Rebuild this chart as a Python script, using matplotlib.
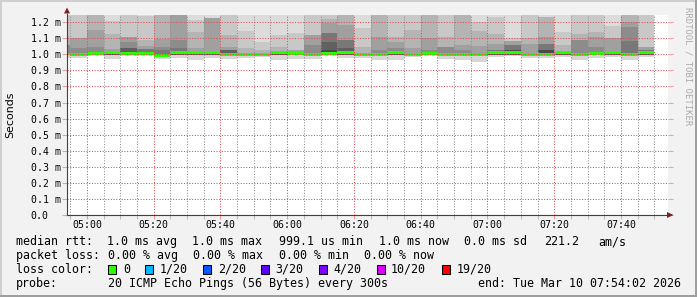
import matplotlib
matplotlib.use("Agg")
import matplotlib.pyplot as plt
from matplotlib.patches import Rectangle, Polygon
import numpy as np

W, H, DPI = 697, 297, 100

# ---------------- data ----------------
bar_start = ["04:50", "04:55", "05:00", "05:05", "05:10", "05:15", "05:20", "05:25",
             "05:30", "05:35", "05:40", "05:45", "05:50", "05:55", "06:00", "06:05",
             "06:10", "06:15", "06:20", "06:25", "06:30", "06:35", "06:40", "06:45",
             "06:50", "06:55", "07:00", "07:05", "07:10", "07:15", "07:20", "07:25",
             "07:30", "07:35", "07:40", "07:45"]

# median rtt (ms) per 5-minute step
median_ms = [1.002, 1.000, 1.003, 1.009, 1.003, 1.003, 0.995, 1.009, 1.009, 1.009,
             1.001, 1.000, 0.998, 1.009, 1.008, 1.000, 1.003, 1.009, 1.000, 1.000,
             1.009, 1.000, 1.003, 1.001, 1.000, 1.000, 1.009, 1.009, 1.000, 1.000,
             1.009, 0.999, 1.005, 1.009, 0.999, 1.009]

# lowest ping (ms) per step (light smoke below the median)
smoke_lo_ms = [0.979, 0.979, 0.992, 0.971, 0.992, 0.992, 0.971, 0.979, 0.965, 0.975,
               0.971, 0.975, 0.985, 0.965, 0.971, 0.971, 0.992, 0.975, 0.975, 0.965,
               0.965, 0.985, 0.992, 0.971, 0.965, 0.954, 0.985, 0.992, 0.975, 0.975,
               0.985, 0.965, 0.975, 0.985, 0.965, 0.985]

# inner (dark) smoke lower edge (ms)
inner_lo_ms = [1.000, 1.000, 1.000, 0.994, 1.000, 1.000, 1.000, 0.994, 0.994, 0.994,
               1.000, 1.000, 1.000, 0.994, 0.994, 1.000, 1.000, 0.994, 1.000, 1.000,
               0.994, 1.000, 1.000, 1.000, 1.000, 1.000, 0.994, 0.994, 1.000, 1.000,
               0.994, 1.000, 1.000, 0.994, 1.000, 0.994]

# smoke upper edges (ms), outer (lightest) to inner (darkest) ping bands
top_1 = [1.30] * 36
top_2 = [1.300, 1.300, 1.300, 1.208, 1.300, 1.240, 1.300, 1.300, 1.215, 1.229,
         1.300, 1.146, 1.079, 1.121, 1.131, 1.300, 1.300, 1.300, 1.167, 1.300,
         1.300, 1.300, 1.300, 1.300, 1.300, 1.200, 1.233, 1.100, 1.300, 1.233,
         1.142, 1.300, 1.300, 1.179, 1.300, 1.300]
top_3 = [1.110, 1.100, 1.300, 1.125, 1.110, 1.090, 1.300, 1.300, 1.142, 1.229,
         1.121, 1.038, 1.027, 1.048, 1.027, 1.121, 1.221, 1.300, 1.048, 1.300,
         1.110, 1.152, 1.300, 1.110, 1.300, 1.146, 1.125, 1.083, 1.100, 1.233,
         1.058, 1.125, 1.142, 1.100, 1.300, 1.048]
top_4 = [1.058, 1.100, 1.152, 1.033, 1.110, 1.054, 1.096, 1.300, 1.042, 1.229,
         1.048, 1.000, 1.000, 1.000, 1.027, 1.121, 1.194, 1.183, 1.000, 1.110,
         1.079, 1.038, 1.104, 1.048, 1.058, 1.054, 1.063, 1.083, 1.063, 1.110,
         1.000, 1.090, 1.110, 1.100, 1.200, 1.048]
top_5 = [1.058, 1.038, 1.048, 1.000, 1.075, 1.033, 1.048, 1.090, 1.000, 1.000,
         1.027, 1.000, 1.000, 1.000, 1.000, 1.058, 1.131, 1.090, 1.000, 1.027,
         1.042, 1.000, 1.027, 1.048, 1.027, 1.000, 1.027, 1.058, 1.000, 1.063,
         1.000, 1.090, 1.048, 1.000, 1.173, 1.027]
top_6 = [1.000, 1.000, 1.000, 1.000, 1.038, 1.033, 1.027, 1.038, 1.000, 1.000,
         1.027, 1.000, 1.000, 1.000, 1.000, 1.000, 1.131, 1.090, 1.000, 1.000,
         1.000, 1.000, 1.000, 1.000, 1.000, 1.000, 1.027, 1.058, 1.000, 1.063,
         1.000, 1.000, 1.000, 1.000, 1.083, 1.027]
top_7 = [1.000, 1.000, 1.000, 1.000, 1.038, 1.000, 1.000, 1.000, 1.000, 1.000,
         1.027, 1.000, 1.000, 1.000, 1.000, 1.000, 1.075, 1.038, 1.000, 1.000,
         1.000, 1.000, 1.000, 1.000, 1.000, 1.000, 1.000, 1.027, 1.000, 1.027,
         1.000, 1.000, 1.000, 1.000, 1.000, 1.000]
top_8 = [1.000, 1.000, 1.000, 1.000, 1.000, 1.000, 1.000, 1.000, 1.000, 1.000,
         1.000, 1.000, 1.000, 1.000, 1.000, 1.000, 1.027, 1.000, 1.000, 1.000,
         1.000, 1.000, 1.000, 1.000, 1.000, 1.000, 1.000, 1.027, 1.000, 1.027,
         1.000, 1.000, 1.000, 1.000, 1.000, 1.000]

step_min = 5
x_start, x_end = "04:54:02", "07:54:02"
xtick_labels = ["05:00", "05:20", "05:40", "06:00", "06:20", "06:40", "07:00", "07:20", "07:40"]
ytick_values = [0.0, 0.1, 0.2, 0.3, 0.4, 0.5, 0.6, 0.7, 0.8, 0.9, 1.0, 1.1, 1.2]
ytick_labels = ["0.0", "0.1 m", "0.2 m", "0.3 m", "0.4 m", "0.5 m", "0.6 m", "0.7 m",
                "0.8 m", "0.9 m", "1.0 m", "1.1 m", "1.2 m"]

loss_labels = ["0", "1/20", "2/20", "3/20", "4/20", "10/20", "19/20"]
loss_colors = ["#26ff00", "#00b8ff", "#0059ff", "#5e00ff", "#7e00ff", "#dd00ff", "#ff0000"]

row_median = ["median rtt:", "1.0 ms avg", "1.0 ms max", "999.1 us min", "1.0 ms now",
              "0.0 ms sd", "221.2", "am/s"]
row_loss = ["packet loss:", "0.00 % avg", "0.00 % max", "0.00 % min", "0.00 % now"]
probe_label = "probe:"
probe_text = "20 ICMP Echo Pings (56 Bytes) every 300s"
end_text = "end: Tue Mar 10 07:54:02 2026"

# ---------------- helpers ----------------
def to_min(s):
    p = [int(v) for v in s.split(":")]
    return p[0] * 60 + p[1] + (p[2] / 60 if len(p) > 2 else 0)

x = np.array([to_min(s) for s in bar_start])
med = np.array(median_ms)

BG = "#f2f2f2"
plt.rcParams["font.family"] = ["DejaVu Sans Mono"]
fig = plt.figure(figsize=(W / DPI, H / DPI), dpi=DPI, facecolor=BG)

def fx(px):
    return px / W

def fy(py):
    return 1 - py / H

ax = fig.add_axes([fx(67), fy(215), (667.8 - 67) / W, (215 - 14.5) / H])
ax.set_facecolor("white")
ax.set_xlim(to_min(x_start), to_min(x_end))
ax.set_ylim(0, 1.248)

# smoke
ax.bar(x, med - np.array(smoke_lo_ms), bottom=smoke_lo_ms, width=step_min, align="edge",
       color="#d6d6d6", linewidth=0, zorder=1.0)
shades = ["#dcdcdc", "#c8c8c8", "#b4b4b4", "#a0a0a0", "#8c8c8c", "#787878", "#606060", "#4a4a4a"]
tops = [top_1, top_2, top_3, top_4, top_5, top_6, top_7, top_8]
for i, (t, c) in enumerate(zip(tops, shades)):
    h = np.clip(np.array(t) - med, 0, None)
    ax.bar(x, h, bottom=med, width=step_min, align="edge", color=c, linewidth=0,
           zorder=1.1 + i * 0.01)
inner_h = np.clip(med - np.array(inner_lo_ms), 0, None)
ax.bar(x, inner_h, bottom=inner_lo_ms, width=step_min, align="edge", color="#4a4a4a",
       linewidth=0, zorder=1.3)
# median line (loss colour 0)
half = 0.0092
ax.bar(x, 2 * half, bottom=med - half, width=step_min, align="edge",
       color=loss_colors[0], linewidth=0, zorder=1.5)

# grid / ticks
GRID = (0.56, 0.56, 0.56, 0.55)
MGRID = (0.87, 0.31, 0.31, 0.5)
ax.set_axisbelow(False)
ax.set_yticks(ytick_values)
ax.set_yticklabels(ytick_labels, ha="left")
major_x = [to_min(s) for s in xtick_labels]
ax.set_xticks(major_x)
ax.set_xticklabels(xtick_labels)
ax.set_xticks(np.arange(to_min("04:55"), to_min("07:55"), step_min), minor=True)
ax.grid(True, which="major", axis="both", color=MGRID, linestyle=(0, (1, 1.6)), linewidth=0.75)
ax.grid(True, which="minor", axis="x", color=GRID, linestyle=(0, (1, 1.6)), linewidth=0.75)
ax.tick_params(axis="y", which="major", direction="out", length=3.6, width=0.75, color=MGRID,
               labelsize=7.1, pad=22.5, right=True)
ax.tick_params(axis="x", which="major", direction="out", length=3, width=0.75, color=MGRID,
               labelsize=7.1, pad=0.8)
ax.tick_params(axis="x", which="minor", direction="out", length=3, width=0.75, color=GRID)
for s in ["top", "right"]:
    ax.spines[s].set_visible(False)
for s in ["left", "bottom"]:
    ax.spines[s].set_color("#404040")
    ax.spines[s].set_linewidth(0.8)
    ax.spines[s].set_zorder(3)

# axis arrows
ARROW = "#801f1f"
fig.add_artist(Polygon([[fx(64), fy(13.5)], [fx(70), fy(13.5)], [fx(67), fy(7.5)]],
                       closed=True, transform=fig.transFigure, color=ARROW, lw=0))
fig.add_artist(Polygon([[fx(667), fy(212)], [fx(667), fy(218)], [fx(673.5), fy(215)]],
                       closed=True, transform=fig.transFigure, color=ARROW, lw=0))

# y label and watermark
fig.text(fx(10), fy(115), "Seconds", rotation=90, ha="center", va="center",
         fontsize=7.9, family="DejaVu Sans")
fig.text(fx(688), fy(66), "RRDTOOL / TOBI OETIKER", rotation=270, ha="center", va="center",
         fontsize=6.4, color="#ababab")

# legend rows
FS = 8.4
x_med = [15.6, 106.7, 192.4, 279, 378.7, 464.4, 544.4, 597.8]
for s, px in zip(row_median, x_med):
    fig.text(fx(px), fy(241.7), s, fontsize=FS, va="center", ha="left")
x_loss = [15.6, 107.6, 193.3, 279, 364.4]
for s, px in zip(row_loss, x_loss):
    fig.text(fx(px), fy(255.5), s, fontsize=FS, va="center", ha="left")
fig.text(fx(15.6), fy(269.5), "loss color:", fontsize=FS, va="center", ha="left")
box_x = [108, 145, 203, 261, 318.7, 377, 442]
lab_x = [123.6, 160, 218, 275.6, 333, 391, 457]
for c, lab, bx, lx in zip(loss_colors, loss_labels, box_x, lab_x):
    fig.add_artist(Rectangle((fx(bx), fy(273.8)), 8 / W, 8.5 / H, transform=fig.transFigure,
                             facecolor=c, edgecolor="black", linewidth=0.75))
    fig.text(fx(lx), fy(269.5), lab, fontsize=FS, va="center", ha="left")
fig.text(fx(15.6), fy(283.5), probe_label, fontsize=FS, va="center", ha="left")
fig.text(fx(107.6), fy(283.5), probe_text, fontsize=FS, va="center", ha="left")
fig.text(fx(680.5), fy(283.5), end_text, fontsize=FS, va="center", ha="right")

# 3-D frame around the image
fig.add_artist(Rectangle((0, 0), 2 / W, 1, transform=fig.transFigure, color="#cfcfcf", lw=0))
fig.add_artist(Rectangle((0, 1 - 2 / H), 1, 2 / H, transform=fig.transFigure, color="#cfcfcf", lw=0))
fig.add_artist(Rectangle((1 - 2 / W, 0), 2 / W, 1, transform=fig.transFigure, color="#9e9e9e", lw=0))
fig.add_artist(Rectangle((0, 0), 1, 2 / H, transform=fig.transFigure, color="#9e9e9e", lw=0))

fig.savefig("out.png", dpi=DPI, facecolor=BG)
